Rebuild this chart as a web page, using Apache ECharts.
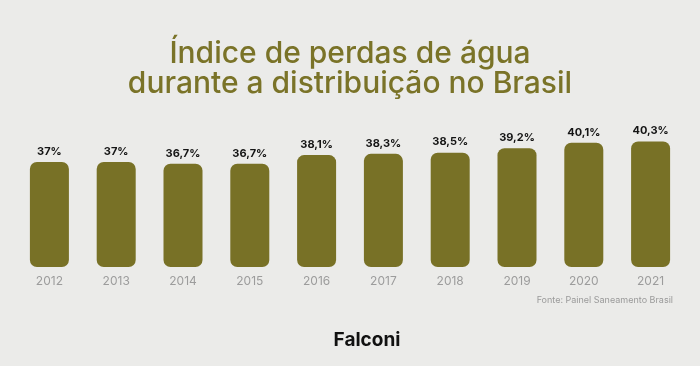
<!DOCTYPE html>
<html>
<head>
<meta charset="utf-8">
<style>
html,body{margin:0;padding:0;background:#ebebe9;}
#c{width:700px;height:366px;}
</style>
<script src="https://cdn.jsdelivr.net/npm/echarts@6/dist/echarts.min.js"></script>
</head>
<body>
<div id="c"></div>
<script>
const years = ['2012','2013','2014','2015','2016','2017','2018','2019','2020','2021'];
const values = [37, 37, 36.7, 36.7, 38.1, 38.3, 38.5, 39.2, 40.1, 40.3];
const titleLines = ['Índice de perdas de água', 'durante a distribuição no Brasil'];
const sourceText = 'Fonte: Painel Saneamento Brasil';
const brandText = 'Falconi';

const chart = echarts.init(document.getElementById('c'), null, {renderer:'canvas'});
chart.setOption({
  backgroundColor: '#ebebe9',
  animation: false,
  graphic: [
    {type: 'text', x: 350, y: 54, style: {text: titleLines[0], align: 'center', verticalAlign: 'middle',
      fontFamily: 'Inter', fontWeight: 500, fontSize: 30, fill: '#7a7328'}},
    {type: 'text', x: 350, y: 84, style: {text: titleLines[1], align: 'center', verticalAlign: 'middle',
      fontFamily: 'Inter', fontWeight: 500, fontSize: 30, fill: '#7a7328'}},
    {type: 'text', x: 673, y: 300, style: {text: sourceText, align: 'right', verticalAlign: 'middle',
      fontFamily: 'Inter', fontWeight: 400, fontSize: 9, fill: '#9a9a9a'}},
    {type: 'text', x: 367, y: 340, style: {text: brandText, align: 'center', verticalAlign: 'middle',
      fontFamily: 'Inter', fontWeight: 700, fontSize: 19, fill: '#111111'}}
  ],
  grid: {left: 16, right: 16, top: 131, bottom: 99, containLabel: false},
  xAxis: {
    type: 'category', data: years,
    axisLine: {show: false}, axisTick: {show: false},
    axisLabel: {color: '#9c9c9c', fontFamily: 'Inter', fontSize: 12, margin: 8}
  },
  yAxis: {type: 'value', min: 20, max: 42, show: false, splitLine: {show: false}},
  series: [{
    type: 'bar', data: values, barWidth: 39,
    itemStyle: {color: '#787126', borderRadius: 7},
    label: {
      show: true, position: 'top', distance: 5,
      color: '#151515', fontFamily: 'Inter', fontWeight: 700, fontSize: 11,
      formatter: p => String(p.value).replace('.', ',') + '%'
    }
  }]
});
</script>
</body>
</html>
